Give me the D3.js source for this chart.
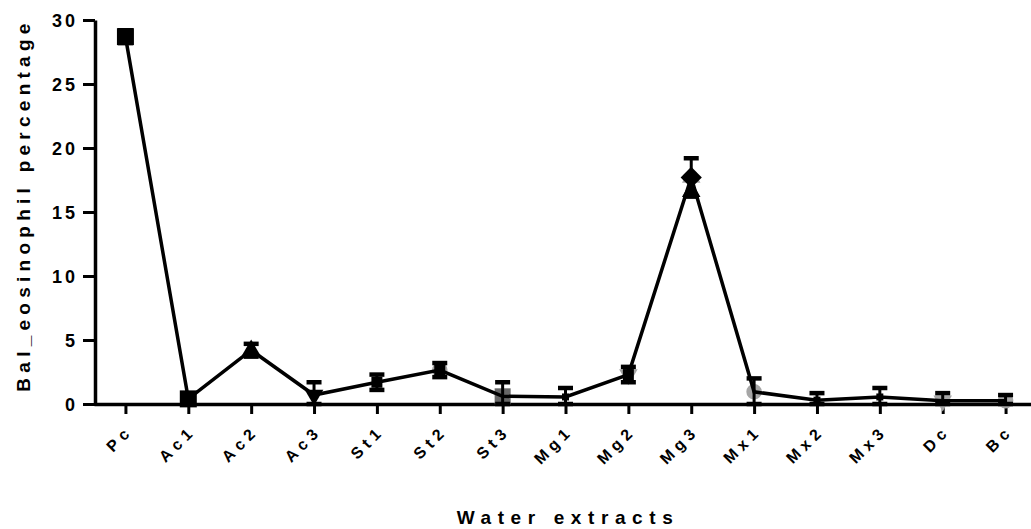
<!DOCTYPE html>
<html>
<head>
<meta charset="utf-8">
<script src="https://cdn.jsdelivr.net/npm/d3@7"></script>
<style>
  html, body { margin: 0; padding: 0; background: #fff; }
  svg { display: block; }
  text { font-family: "Liberation Sans", Arial, sans-serif; font-weight: bold; fill: #000; }
</style>
</head>
<body>
<svg id="chart" width="1031" height="529"></svg>
<script>
// ---- data ----
const categories = ["Pc","Ac1","Ac2","Ac3","St1","St2","St3","Mg1","Mg2","Mg3","Mx1","Mx2","Mx3","Dc","Bc"];
const means  = [28.7, 0.4, 4.2, 0.7, 1.7, 2.65, 0.6, 0.55, 2.3, 17.7, 0.95, 0.3, 0.55, 0.25, 0.25];
const errors = [0.5, 0.3, 0.5, 1.0, 0.6, 0.55, 1.1, 0.7, 0.6, 1.5, 1.05, 0.55, 0.7, 0.6, 0.45];
const blackSymbols = ["square","square","triangle","triangleDown","squareSmall","squareSmall","none","tiny","squareSmall","diamond","none","tiny","tiny","none","none"];
const greySymbols  = ["none","none","none","none","none","circle","squareDark","none","triangleDown","triangle","circle","none","none","triangleDown","circle"];
const yTicks = [0, 5, 10, 15, 20, 25, 30];
const yTitle = "Bal_eosinophil percentage";
const xTitle = "Water extracts";

// ---- layout ----
const svg = d3.select("#chart");
const x = d3.scalePoint().domain(categories).range([94, 1037]).padding(0.5);
const y = d3.scaleLinear().domain([0, 30]).range([404, 20]);

const data = categories.map((c, i) => ({c, m: means[i], e: errors[i], b: blackSymbols[i], g: greySymbols[i]}));

function fitSpacing(sel, target) {
  const node = sel.node();
  sel.attr("letter-spacing", "0px");
  const w = node.getComputedTextLength();
  const n = sel.text().length;
  const ls = (target - w) / (n - 1);
  sel.attr("letter-spacing", ls + "px");
  return ls;
}

// axes
const yAxis = d3.axisLeft(y).tickValues(yTicks).tickSize(12).tickSizeOuter(0).tickFormat(d3.format("d"));
const gy = svg.append("g").attr("transform", "translate(95,0)").call(yAxis);
gy.select(".domain").attr("stroke-width", 3.5).attr("stroke", "#000");
gy.selectAll(".tick line").attr("stroke-width", 3).attr("stroke", "#000");
gy.selectAll(".tick text").attr("font-size", 18).attr("letter-spacing", "3px")
  .attr("x", -17).attr("dy", "0.36em");

const xAxis = d3.axisBottom(x).tickSize(10).tickSizeOuter(0);
const gx = svg.append("g").attr("transform", "translate(0,404)").call(xAxis);
gx.select(".domain").attr("stroke-width", 3.5).attr("stroke", "#000");
gx.selectAll(".tick line").attr("stroke-width", 3).attr("stroke", "#000");
gx.selectAll(".tick text")
  .attr("font-size", 16).attr("letter-spacing", "5px")
  .attr("text-anchor", "end")
  .attr("x", 0).attr("y", 0).attr("dy", 0)
  .attr("transform", "translate(8,28) rotate(-45)");

// titles
const yt = svg.append("text").attr("transform", "translate(30,205) rotate(-90)")
  .attr("text-anchor", "middle").attr("font-size", 19)
  .text(yTitle);
fitSpacing(yt, 368);
const xt = svg.append("text").attr("x", 568).attr("y", 524)
  .attr("text-anchor", "middle").attr("font-size", 19)
  .text(xTitle);
fitSpacing(xt, 216);

function symPath(name) {
  switch (name) {
    case "square": return d3.symbol(d3.symbolSquare, 17 * 17)();
    case "squareSmall": return d3.symbol(d3.symbolSquare, 11 * 11)();
    case "squareDark": return d3.symbol(d3.symbolSquare, 16 * 16)();
    case "tiny": return d3.symbol(d3.symbolSquare, 7 * 7)();
    case "triangle": return d3.symbol(d3.symbolTriangle, 150)();
    case "triangleDown": return d3.symbol(d3.symbolTriangle, 150)();
    case "circle": return d3.symbol(d3.symbolCircle, 190)();
    case "diamond": return d3.symbol(d3.symbolSquare, 15 * 15)();
    default: return null;
  }
}
function symRot(name) {
  if (name === "triangleDown") return 180;
  if (name === "diamond") return 45;
  return 0;
}

svg.append("g").selectAll("path").data(data.filter(d => d.g !== "none")).join("path")
  .attr("d", d => symPath(d.g))
  .attr("transform", d => `translate(${x(d.c)},${y(d.m)}) rotate(${symRot(d.g)})`)
  .attr("fill", d => d.g === "squareDark" ? "#666" : "#a6a6a6");

const line = d3.line().x(d => x(d.c)).y(d => y(d.m));
svg.append("path").datum(data).attr("d", line)
  .attr("fill", "none").attr("stroke", "#000").attr("stroke-width", 3.5).attr("stroke-linejoin", "miter");

const eb = svg.append("g").selectAll("g").data(data).join("g");
eb.append("line")
  .attr("x1", d => x(d.c)).attr("x2", d => x(d.c))
  .attr("y1", d => y(Math.max(0, d.m - d.e))).attr("y2", d => y(d.m + d.e))
  .attr("stroke", "#000").attr("stroke-width", 3);
eb.append("line")
  .attr("x1", d => x(d.c) - 7.5).attr("x2", d => x(d.c) + 7.5)
  .attr("y1", d => y(d.m + d.e)).attr("y2", d => y(d.m + d.e))
  .attr("stroke", "#000").attr("stroke-width", 4.5);
eb.append("line")
  .attr("x1", d => x(d.c) - 7.5).attr("x2", d => x(d.c) + 7.5)
  .attr("y1", d => y(Math.max(0, d.m - d.e))).attr("y2", d => y(Math.max(0, d.m - d.e)))
  .attr("stroke", "#000").attr("stroke-width", 4.5);

svg.append("g").selectAll("path").data(data.filter(d => d.b !== "none")).join("path")
  .attr("d", d => symPath(d.b))
  .attr("transform", d => `translate(${x(d.c)},${y(d.m)}) rotate(${symRot(d.b)})`)
  .attr("fill", "#000");
svg.append("g").selectAll("path").data(data.filter(d => d.b === "diamond")).join("path")
  .attr("d", symPath("triangle"))
  .attr("transform", d => `translate(${x(d.c)},${y(d.m - 1.1)})`)
  .attr("fill", "#000");
</script>
</body>
</html>
